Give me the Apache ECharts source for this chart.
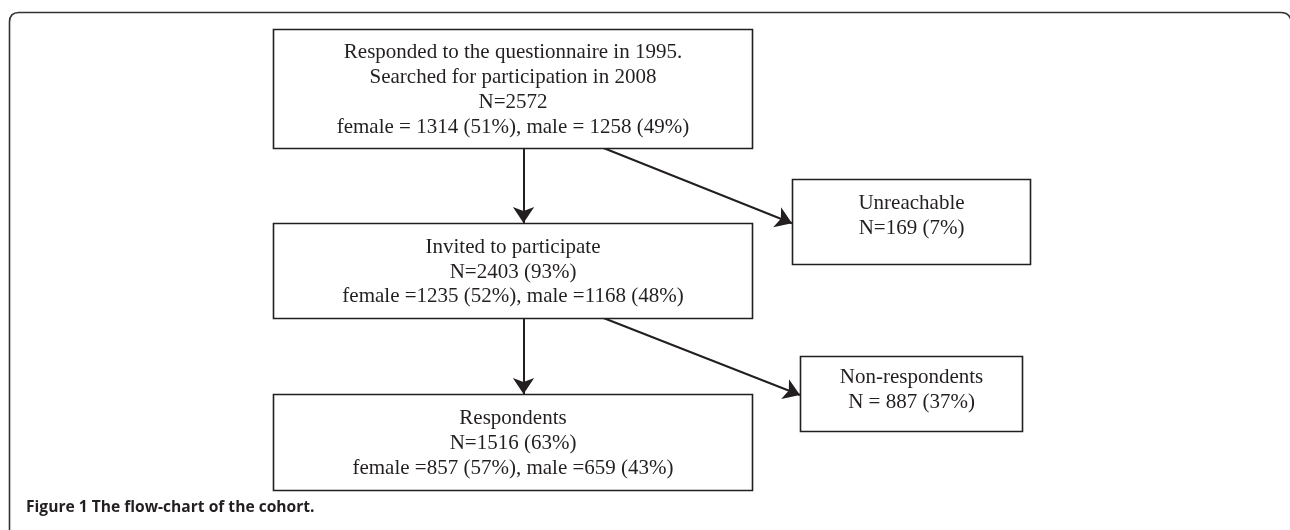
<!DOCTYPE html>
<html>
<head>
<meta charset="utf-8">
<script src="https://cdn.jsdelivr.net/npm/echarts@6/dist/echarts.min.js"></script>
<style>
  html, body { margin: 0; padding: 0; background: #fff; }
  #main { width: 1290px; height: 530px; }
</style>
</head>
<body>
<div id="main"></div>
<script>
// flow-chart data (counts and percentages as printed)
var stageTitles = [
  'Responded to the questionnaire in 1995.\nSearched for participation in 2008',
  'Invited to participate',
  'Respondents',
  'Unreachable',
  'Non-respondents'
];
var stageN = [2572, 2403, 1516, 169, 887];
var stagePct = [null, 93, 63, 7, 37];
var femaleN = [1314, 1235, 857, null, null];
var femalePct = [51, 52, 57, null, null];
var maleN = [1258, 1168, 659, null, null];
var malePct = [49, 48, 43, null, null];
// arrows: [from, to]
var flows = [[0, 1], [0, 3], [1, 2], [1, 4]];

// layout only (px in a 1290x530 frame): x, y, w, h, text shift
var boxLayout = [
  [273, 29, 479, 119, 1],
  [273, 223, 479, 95, 1],
  [273, 394, 479, 96, 1],
  [792, 179, 238, 85, -6],
  [800, 356, 222, 75, -4]
];
var INK = '#231f20';

function boxText(i) {
  var eq = i === 4 ? ' = ' : '=';
  var lines = [stageTitles[i]];
  lines.push('N' + eq + stageN[i] + (stagePct[i] != null ? ' (' + stagePct[i] + '%)' : ''));
  if (femaleN[i] != null) {
    var s = i === 0 ? ' = ' : ' =';
    lines.push('female' + s + femaleN[i] + ' (' + femalePct[i] + '%), male' + s + maleN[i] + ' (' + malePct[i] + '%)');
  }
  return lines.join('\n');
}

// arrow end points derived from the boxes
function flowCoords(f) {
  var a = boxLayout[f[0]], b = boxLayout[f[1]];
  if (f[1] === f[0] + 1) {
    var x = a[0] + a[2] * 0.523;
    return [[x, a[1] + a[3]], [x, b[1]]];
  }
  return [[a[0] + a[2] * 0.69, a[1] + a[3]], [b[0], b[1] + b[3] * 0.52]];
}

var chartDom = document.getElementById('main');
var myChart = echarts.init(chartDom);
var option;

var frameStyle = { fill: 'none', stroke: '#333', lineWidth: 1.6 };

option = {
  backgroundColor: '#fff',
  animation: false,
  title: {
    text: 'Figure 1 The flow-chart of the cohort.',
    left: 21,
    top: 495,
    textStyle: { fontFamily: 'Open Sans', fontWeight: 'bold', fontSize: 15.6, color: INK }
  },
  grid: { left: 0, right: 0, top: 0, bottom: 0 },
  xAxis: { type: 'value', min: 0, max: 1290, show: false },
  yAxis: { type: 'value', min: 0, max: 530, inverse: true, show: false },
  graphic: [
    { type: 'line', silent: true, shape: { x1: 9.5, y1: 530, x2: 9.5, y2: 22 }, style: frameStyle },
    { type: 'bezierCurve', silent: true, shape: { x1: 9.5, y1: 22, cpx1: 9.5, cpy1: 12.5, x2: 19, y2: 12.5 }, style: frameStyle },
    { type: 'line', silent: true, shape: { x1: 19, y1: 12.5, x2: 1281, y2: 12.5 }, style: frameStyle },
    { type: 'bezierCurve', silent: true, shape: { x1: 1281, y1: 12.5, cpx1: 1289, cpy1: 12.5, x2: 1291, y2: 20 }, style: frameStyle }
  ],
  series: [
    {
      type: 'lines',
      coordinateSystem: 'cartesian2d',
      symbol: ['none', 'arrow'],
      symbolSize: [12, 16],
      lineStyle: { color: INK, width: 2, opacity: 1 },
      data: flows.map(function (f) { return { coords: flowCoords(f) }; }),
      z: 1
    },
    {
      type: 'custom',
      coordinateSystem: 'cartesian2d',
      data: boxLayout.map(function (b, i) { return [b[0], b[1], i]; }),
      renderItem: function (params, api) {
        var i = api.value(2);
        var b = boxLayout[i];
        var p = api.coord([b[0], b[1]]);
        var s = api.size([b[2], b[3]]);
        var x = Math.round(p[0]) + 0.5, y = Math.round(p[1]) + 0.5;
        return {
          type: 'group',
          children: [
            {
              type: 'rect',
              shape: { x: x, y: y, width: Math.round(s[0]), height: Math.round(s[1]) },
              style: { fill: '#fff', stroke: INK, lineWidth: 1.6 }
            },
            {
              type: 'text',
              style: {
                text: boxText(i),
                x: x + s[0] / 2,
                y: y + s[1] / 2 + b[4],
                align: 'center',
                verticalAlign: 'middle',
                font: '21px "Liberation Serif"',
                lineHeight: 24.8,
                fill: INK
              }
            }
          ]
        };
      },
      z: 2
    }
  ]
};

option && myChart.setOption(option);
</script>
</body>
</html>
